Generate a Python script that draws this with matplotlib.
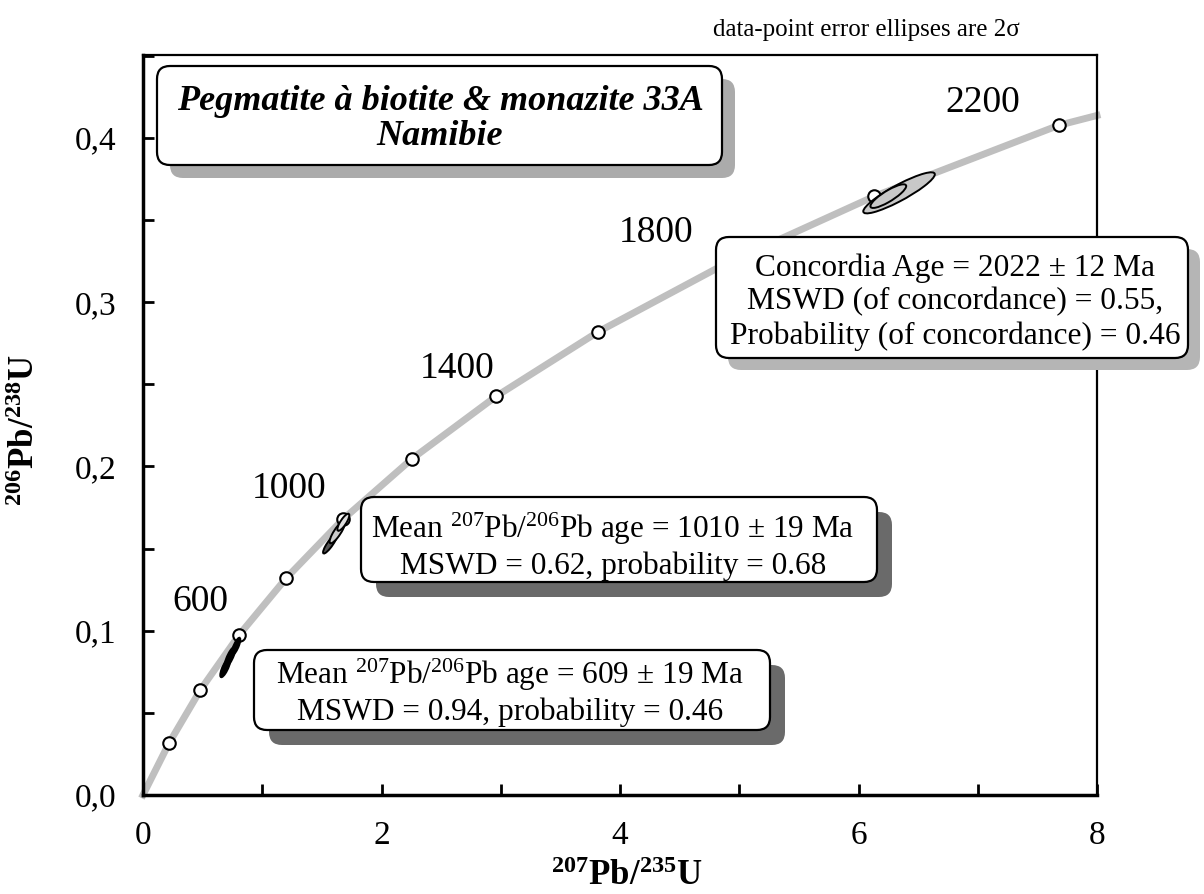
import numpy as np
import matplotlib
matplotlib.use("Agg")
import matplotlib.pyplot as plt
from matplotlib.patches import FancyBboxPatch, Ellipse
from matplotlib.transforms import Affine2D
from matplotlib.ticker import MultipleLocator

plt.rcParams['font.family'] = ['Liberation Serif', 'DejaVu Serif']
plt.rcParams['mathtext.fontset'] = 'custom'
plt.rcParams['mathtext.rm'] = 'Liberation Serif'
plt.rcParams['mathtext.it'] = 'Liberation Serif:italic'
plt.rcParams['mathtext.bf'] = 'Liberation Serif:bold'

# concordia age markers (Ma) and their ratios
ages = [200, 400, 600, 800, 1000, 1200, 1400, 1600, 1800, 2000, 2200]
pb207_u235 = [0.218, 0.482, 0.807, 1.202, 1.677, 2.257, 2.962, 3.819, 4.863, 6.133, 7.679]
pb206_u238 = [0.0315, 0.0640, 0.0975, 0.1321, 0.1678, 0.2047, 0.2427, 0.2820, 0.3225, 0.3644, 0.4076]
# curve runs from the origin to the right edge
curve_start = (0.0, 0.0)
curve_end = (8.0, 0.4136)

labelled_ages = [600, 1000, 1400, 1800, 2200]

# data-point error ellipses (2 sigma half widths, correlation)
ell_x = [0.69, 0.73, 0.78, 1.57, 1.63, 1.68, 6.34, 6.25]
ell_y = [0.0775, 0.0840, 0.0905, 0.153, 0.160, 0.166, 0.3665, 0.3645]
ell_sx = [0.042, 0.045, 0.036, 0.060, 0.065, 0.050, 0.30, 0.15]
ell_sy = [0.0058, 0.0062, 0.0052, 0.0060, 0.0068, 0.0052, 0.0125, 0.0072]
ell_rho = [0.78, 0.80, 0.78, 0.88, 0.85, 0.82, 0.90, 0.85]
ell_fill = ['black', 'black', 'black', '#555555', '#cccccc', '#dddddd', '#c8c8c8', '#c8c8c8']

xticks = [0, 2, 4, 6, 8]
yticks = [0.0, 0.1, 0.2, 0.3, 0.4]
ytick_labels = ['0,0', '0,1', '0,2', '0,3', '0,4']

W, H = 1204, 894
fig = plt.figure(figsize=(W / 100, H / 100), dpi=100)
ax = fig.add_axes([143 / W, 99 / H, (1097 - 143) / W, (795 - 55) / H])
ax.set_xlim(0, 8)
ax.set_ylim(0, 0.4504)

cx = [curve_start[0]] + pb207_u235 + [curve_end[0]]
cy = [curve_start[1]] + pb206_u238 + [curve_end[1]]
ax.plot(cx, cy, color='#bfbfbf', lw=5, solid_joinstyle='round', zorder=2, clip_on=False)
ax.plot(pb207_u235, pb206_u238, 'o', ms=9, mfc='white', mec='black', mew=1.5, zorder=3)

for x, y, sx, sy, r, fc in zip(ell_x, ell_y, ell_sx, ell_sy, ell_rho, ell_fill):
    tr = Affine2D(np.array([[sx, 0, x], [r * sy, sy * np.sqrt(1 - r * r), y], [0, 0, 1]]))
    e = Ellipse((0, 0), 2, 2, facecolor=fc, edgecolor='black', lw=1.4,
                transform=tr + ax.transData, zorder=4)
    ax.add_patch(e)

# age labels, offsets in points from the marker
label_offsets = [(-28, 24), (-39, 22), (-28, 20), (-48, 23), (-55, 16)]
for a, off in zip(labelled_ages, label_offsets):
    i = ages.index(a)
    ax.annotate(str(a), (pb207_u235[i], pb206_u238[i]), xytext=off,
                textcoords='offset points', ha='center', va='center', fontsize=27)

ax.set_xticks(xticks)
ax.xaxis.set_minor_locator(MultipleLocator(1))
ax.set_yticks(yticks)
ax.set_yticklabels(ytick_labels)
ax.yaxis.set_minor_locator(MultipleLocator(0.05))
ax.tick_params(which='both', direction='in', length=8, width=2, labelsize=24,
               top=False, right=False)
ax.tick_params(axis='x', pad=18)
ax.tick_params(axis='y', pad=19)
for s in ['left', 'bottom']:
    ax.spines[s].set_linewidth(2.5)
for s in ['top', 'right']:
    ax.spines[s].set_linewidth(1.6)

ax.set_xlabel(r'$^{\mathbf{207}}\mathbf{Pb/}^{\mathbf{235}}\mathbf{U}$', fontsize=25)
ax.xaxis.set_label_coords(0.507, -0.088)
ax.set_ylabel(r'$^{\mathbf{206}}\mathbf{Pb/}^{\mathbf{238}}\mathbf{U}$', fontsize=25)
ax.yaxis.set_label_coords(-0.106, 0.493)

fig.text(866 / W, 1 - 30 / H, 'data-point error ellipses are 2σ', ha='center', va='center',
         fontsize=18)


def shadow_box(x0, y0, x1, y1, shade, off, text, tx, ty, **kw):
    # box given in pixels from the top-left corner
    t = fig.dpi_scale_trans
    w, h = (x1 - x0) / 100, (y1 - y0) / 100
    bx, by = x0 / 100, (H - y1) / 100
    style = 'round,pad=0,rounding_size=0.13'
    fig.add_artist(FancyBboxPatch((bx + off / 100, by - off / 100), w, h, boxstyle=style,
                                  transform=t, facecolor=shade, edgecolor='none', zorder=10))
    fig.add_artist(FancyBboxPatch((bx, by), w, h, boxstyle=style, transform=t,
                                  facecolor='white', edgecolor='black', lw=1.6, zorder=11))
    fig.text(tx / 100, (H - ty) / 100, text, transform=t, ha='center', va='center',
             multialignment='center', zorder=12, **kw)


shadow_box(157, 66, 722, 165, '#ababab', 13,
           'Pegmatite à biotite & monazite 33A\nNamibie', 440, 119,
           fontsize=26, fontweight='bold', fontstyle='italic', linespacing=1.05)
shadow_box(716, 237, 1188, 358, '#b5b5b5', 12,
           'Concordia Age = 2022 ± 12 Ma\nMSWD (of concordance) = 0.55,\n'
           'Probability (of concordance) = 0.46', 955, 302,
           fontsize=22.6, linespacing=1.2)
shadow_box(361, 497, 877, 582, '#6a6a6a', 15,
           'Mean $^{207}$Pb/$^{206}$Pb age = 1010 ± 19 Ma\nMSWD = 0.62, probability = 0.68',
           613, 546, fontsize=22.5, linespacing=1.2)
shadow_box(254, 650, 770, 730, '#6a6a6a', 15,
           'Mean $^{207}$Pb/$^{206}$Pb age = 609 ± 19 Ma\nMSWD = 0.94, probability = 0.46',
           510, 692, fontsize=22.5, linespacing=1.2)

fig.savefig('out.png', dpi=100, facecolor='white')
